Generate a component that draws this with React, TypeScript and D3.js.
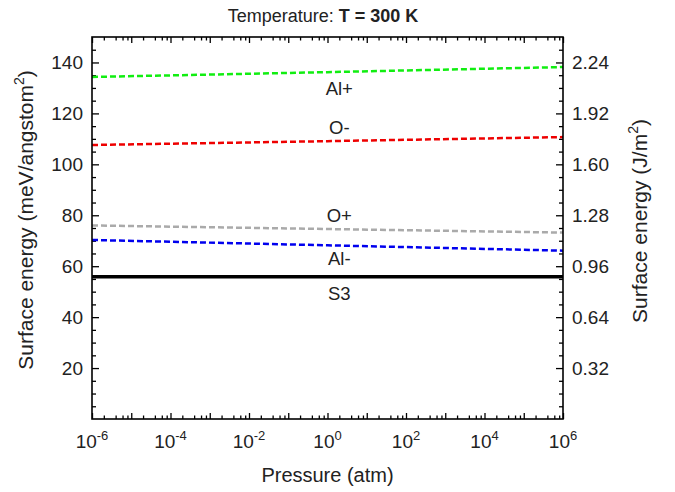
import React, { useEffect, useRef } from "react";
import * as d3 from "d3";

// pressure (atm) sampled at the ends and the middle of the range
const pressures = [1e-6, 1, 1e6];

// surface energy, meV/angstrom^2
const alPlus = [134.3, 136.2, 138.2];
const oMinus = [107.6, 109.1, 110.7];
const oPlus = [76.0, 74.6, 73.2];
const alMinus = [70.3, 68.2, 66.1];
const s3 = [55.9, 55.9, 55.9];

const seriesNames = ["Al+", "O-", "O+", "Al-", "S3"];
const seriesValues = [alPlus, oMinus, oPlus, alMinus, s3];
const seriesColors = ["#11ee11", "#ee0000", "#aaaaaa", "#0000ee", "#000000"];
// where each name sits (pressure, meV/angstrom^2)
const labelPressure = 2;
const labelEnergy = [127.2, 111.9, 77.5, 60.5, 46.7];

const leftTicks = [20, 40, 60, 80, 100, 120, 140];
const rightTicks = [0.32, 0.64, 0.96, 1.28, 1.6, 1.92, 2.24];
const xLabelExps = [-6, -4, -2, 0, 2, 4, 6];

const width = 675;
const height = 492;
const margin = { top: 37, right: 112, bottom: 73, left: 92 };
const font = "'Liberation Sans', Arial, Helvetica, sans-serif";

export default function App() {
  const ref = useRef<SVGSVGElement>(null);

  useEffect(() => {
    const svg = d3.select(ref.current);
    svg.selectAll("*").remove();

    const x = d3
      .scaleLog()
      .domain([1e-6, 1e6])
      .range([margin.left, width - margin.right]);
    const y = d3
      .scaleLinear()
      .domain([0, 150])
      .range([height - margin.bottom, margin.top]);
    // 1 meV/A^2 = 0.016 J/m^2
    const yR = d3
      .scaleLinear()
      .domain([0, 150 * 0.016])
      .range([height - margin.bottom, margin.top]);

    const decades = d3.range(-6, 7).map((e) => Math.pow(10, e));
    const xMinor: number[] = [];
    d3.range(-6, 6).forEach((e) => {
      [2, 4, 6, 8].forEach((m) => xMinor.push(m * Math.pow(10, e)));
    });
    const yMinor = d3.range(5, 150, 5).filter((v) => v % 20 !== 0);
    const yRMinor = yMinor.map((v) => v * 0.016);

    const bottom = height - margin.bottom;
    const right = width - margin.right;

    const styleAxis = (g: any) => {
      g.select(".domain").remove();
      g.selectAll("line").attr("stroke", "#000").attr("stroke-width", 1.3);
      g.selectAll("text")
        .attr("font-family", font)
        .attr("font-size", 19)
        .attr("fill", "#222");
    };

    // y axes
    svg
      .append("g")
      .attr("transform", `translate(${margin.left},0)`)
      .call(
        d3.axisLeft(y).tickValues(leftTicks).tickSize(-7).tickPadding(9).tickFormat(d3.format("d"))
      )
      .call(styleAxis);
    svg
      .append("g")
      .attr("transform", `translate(${margin.left},0)`)
      .call(d3.axisLeft(y).tickValues(yMinor).tickSize(-4).tickFormat(() => ""))
      .call(styleAxis);
    svg
      .append("g")
      .attr("transform", `translate(${right},0)`)
      .call(
        d3.axisRight(yR).tickValues(rightTicks).tickSize(-7).tickPadding(9).tickFormat(d3.format(".2f"))
      )
      .call(styleAxis);
    svg
      .append("g")
      .attr("transform", `translate(${right},0)`)
      .call(d3.axisRight(yR).tickValues(yRMinor).tickSize(-4).tickFormat(() => ""))
      .call(styleAxis);

    // x axes (bottom + top)
    svg
      .append("g")
      .attr("transform", `translate(0,${bottom})`)
      .call(d3.axisBottom(x).tickValues(decades).tickSize(-6).tickFormat(() => ""))
      .call(styleAxis);
    svg
      .append("g")
      .attr("transform", `translate(0,${bottom})`)
      .call(d3.axisBottom(x).tickValues(xMinor).tickSize(-3.5).tickFormat(() => ""))
      .call(styleAxis);
    svg
      .append("g")
      .attr("transform", `translate(0,${margin.top})`)
      .call(d3.axisTop(x).tickValues(decades).tickSize(-6).tickFormat(() => ""))
      .call(styleAxis);
    svg
      .append("g")
      .attr("transform", `translate(0,${margin.top})`)
      .call(d3.axisTop(x).tickValues(xMinor).tickSize(-3.5).tickFormat(() => ""))
      .call(styleAxis);

    // x tick labels with superscript exponents
    const xl = svg
      .append("g")
      .attr("font-family", font)
      .attr("fill", "#222")
      .selectAll("text")
      .data(xLabelExps)
      .enter()
      .append("text")
      .attr("x", (d) => x(Math.pow(10, d)))
      .attr("y", bottom + 29)
      .attr("text-anchor", "middle")
      .attr("font-size", 19);
    xl.append("tspan").text("10");
    xl.append("tspan")
      .attr("dy", -8)
      .attr("font-size", 13)
      .text((d) => String(d));

    // curves
    const line = d3
      .line<number>()
      .x((d, i) => x(pressures[i]))
      .y((d) => y(d));

    svg
      .append("g")
      .selectAll("path")
      .data(seriesValues)
      .enter()
      .append("path")
      .attr("d", (d) => line(d))
      .attr("fill", "none")
      .attr("stroke", (d, i) => seriesColors[i])
      .attr("stroke-width", (d, i) => (i === 4 ? 3.5 : 2.5))
      .attr("stroke-dasharray", (d, i) => (i === 4 ? null : "6,3"));

    // curve names
    svg
      .append("g")
      .attr("font-family", font)
      .attr("font-size", 18.5)
      .attr("fill", "#222")
      .attr("text-anchor", "middle")
      .selectAll("text")
      .data(seriesNames)
      .enter()
      .append("text")
      .attr("x", x(labelPressure))
      .attr("y", (d, i) => y(labelEnergy[i]))
      .text((d) => d);

    // frame
    svg
      .append("rect")
      .attr("x", margin.left)
      .attr("y", margin.top)
      .attr("width", right - margin.left)
      .attr("height", bottom - margin.top)
      .attr("fill", "none")
      .attr("stroke", "#000")
      .attr("stroke-width", 1.6);

    // title
    const title = svg
      .append("text")
      .attr("x", 323)
      .attr("y", 22)
      .attr("text-anchor", "middle")
      .attr("font-family", font)
      .attr("font-size", 18)
      .attr("fill", "#222");
    title.append("tspan").text("Temperature: ");
    title.append("tspan").attr("font-weight", "bold").text("T = 300 K");

    // axis titles
    svg
      .append("text")
      .attr("x", (margin.left + right) / 2)
      .attr("y", 482)
      .attr("text-anchor", "middle")
      .attr("font-family", font)
      .attr("font-size", 20)
      .attr("fill", "#222")
      .text("Pressure (atm)");

    const yl = svg
      .append("text")
      .attr("transform", `translate(33,220) rotate(-90)`)
      .attr("text-anchor", "middle")
      .attr("font-family", font)
      .attr("font-size", 21)
      .attr("fill", "#222");
    yl.append("tspan").text("Surface energy (meV/angstom");
    yl.append("tspan").attr("dy", -9).attr("font-size", 14).text("2");
    yl.append("tspan").attr("dy", 9).text(")");

    const yr = svg
      .append("text")
      .attr("transform", `translate(647,221) rotate(-90)`)
      .attr("text-anchor", "middle")
      .attr("font-family", font)
      .attr("font-size", 21)
      .attr("fill", "#222");
    yr.append("tspan").text("Surface energy (J/m");
    yr.append("tspan").attr("dy", -9).attr("font-size", 14).text("2");
    yr.append("tspan").attr("dy", 9).text(")");
  }, []);

  return (
    <svg
      ref={ref}
      width={width}
      height={height}
      style={{ position: "absolute", left: 0, top: 0, background: "#fff" }}
    />
  );
}
